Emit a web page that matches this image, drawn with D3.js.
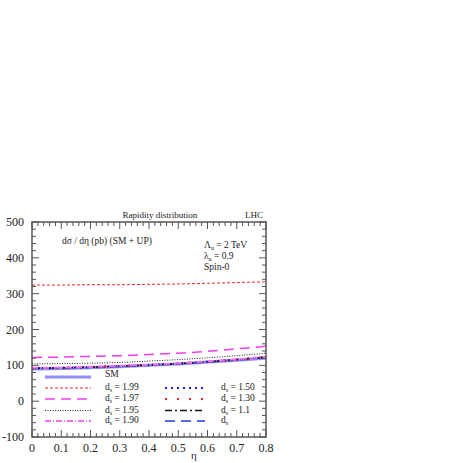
<!DOCTYPE html>
<html>
<head>
<meta charset="utf-8">
<script src="https://cdn.jsdelivr.net/npm/d3@7"></script>
<style>
  body { margin: 0; background: #fff; }
  svg text { font-family: "Liberation Serif", "Times New Roman", "DejaVu Serif", serif; fill: #222; }
</style>
</head>
<body>
<svg id="chart"></svg>
<script>
// eta grid and curves
const eta = [0, 0.1, 0.2, 0.3, 0.4, 0.5, 0.6, 0.7, 0.8];
const sm     = [90, 91, 93, 96, 100, 104, 109, 114, 120];
const d199   = [324, 324, 325, 325, 326, 327, 329, 331, 333];
const d197   = [122, 123, 125, 127, 130, 134, 139, 146, 153];
const d195   = [104, 105, 106, 108, 112, 116, 121, 127, 134];
const d190   = [93, 94, 96, 99, 102, 106, 111, 117, 124];
const d150   = [92, 93, 95, 98, 101, 105, 110, 116, 123];
const d130   = [92, 93, 95, 98, 101, 105, 110, 116, 123];
const d11    = [92, 93, 95, 98, 101, 105, 110, 116, 123];
const dsCurve = [91, 92, 94, 97, 100, 104, 109, 115, 122];
const xTicks = [0, 0.1, 0.2, 0.3, 0.4, 0.5, 0.6, 0.7, 0.8];
const yTicks = [-100, 0, 100, 200, 300, 400, 500];

const series = [
  {name: "SM",        vals: sm,     color: "#8f8ff5", width: 3,   dash: null,      col: 0, row: 0},
  {name: "1.99",      vals: d199,   color: "#e8282d", width: 1,   dash: "3,2",     col: 0, row: 1},
  {name: "1.97",      vals: d197,   color: "#f23cf2", width: 1.5, dash: "10,6",    col: 0, row: 2},
  {name: "1.95",      vals: d195,   color: "#222",    width: 1,   dash: "1,1.5",   col: 0, row: 3},
  {name: "1.90",      vals: d190,   color: "#f070f0", width: 2,   dash: "6,2,1,2", col: 0, row: 4},
  {name: "1.50",      vals: d150,   color: "#1a1ad0", width: 2,   dash: "2,4",     col: 1, row: 1},
  {name: "1.30",      vals: d130,   color: "#e8282d", width: 2,   dash: "2,10",    col: 1, row: 2},
  {name: "1.1",       vals: d11,    color: "#111",    width: 1.5, dash: "7,3,2,3", col: 1, row: 3},
  {name: "",          vals: dsCurve,color: "#5a6af0", width: 2,   dash: "10,6",    col: 1, row: 4}
];

const width = 463, height = 463;
const pLeft = 32, pRight = 266, pTop = 222, pBottom = 437;

const svg = d3.select("#chart").attr("width", width).attr("height", height)
  .attr("font-family", "Liberation Serif, Times New Roman, serif");

const x = d3.scaleLinear().domain([0, 0.8]).range([pLeft, pRight]);
const y = d3.scaleLinear().domain([-100, 500]).range([pBottom, pTop]);

// curves
const line = d3.line().x((d, i) => x(eta[i])).y(d => y(d)).curve(d3.curveMonotoneX);
const order = [0, 8, 5, 6, 7, 4, 3, 2, 1];
svg.append("g").selectAll("path")
  .data(order.map(i => series[i]))
  .join("path")
  .attr("d", d => line(d.vals))
  .attr("fill", "none")
  .attr("stroke", d => d.color)
  .attr("stroke-width", d => d.width)
  .attr("stroke-dasharray", d => d.dash);

// frame
svg.append("rect")
  .attr("x", pLeft).attr("y", pTop)
  .attr("width", pRight - pLeft).attr("height", pBottom - pTop)
  .attr("fill", "none").attr("stroke", "#555").attr("stroke-width", 1.5);

// ticks, all pointing inward
const tickG = svg.append("g").attr("stroke", "#555").attr("stroke-width", 1);
const xMinor = d3.range(0, 0.8001, 0.02);
const yMinor = d3.range(-100, 500.001, 20);
xMinor.forEach(v => {
  const major = Math.abs(v * 10 - Math.round(v * 10)) < 1e-6;
  const len = major ? 7 : 4;
  tickG.append("line").attr("x1", x(v)).attr("x2", x(v)).attr("y1", pBottom).attr("y2", pBottom - len);
  tickG.append("line").attr("x1", x(v)).attr("x2", x(v)).attr("y1", pTop).attr("y2", pTop + len);
});
yMinor.forEach(v => {
  const major = Math.abs(v % 100) < 1e-6;
  const len = major ? 7 : 4;
  tickG.append("line").attr("x1", pLeft).attr("x2", pLeft + len).attr("y1", y(v)).attr("y2", y(v));
  tickG.append("line").attr("x1", pRight).attr("x2", pRight - len).attr("y1", y(v)).attr("y2", y(v));
});

// tick labels
svg.append("g").selectAll("text").data(xTicks).join("text")
  .attr("x", d => x(d)).attr("y", pBottom + 15)
  .attr("text-anchor", "middle").attr("font-size", 12)
  .text(d => d3.format(".1~f")(d));
svg.append("g").selectAll("text").data(yTicks).join("text")
  .attr("x", 24).attr("y", d => y(d) + 4)
  .attr("text-anchor", "end").attr("font-size", 12)
  .text(d => d);

svg.append("text").attr("x", 194).attr("y", 459).attr("font-size", 11).attr("text-anchor", "middle").text("η");

// headers and annotations
svg.append("text").attr("x", 160).attr("y", 218).attr("font-size", 9).attr("text-anchor", "middle").text("Rapidity distribution");
svg.append("text").attr("x", 263).attr("y", 218).attr("font-size", 9).attr("text-anchor", "end").text("LHC");
svg.append("text").attr("x", 62).attr("y", 244).attr("font-size", 9.5).text("dσ / dη (pb) (SM + UP)");

const ann = svg.append("g").attr("font-size", 9.5);
const a1 = ann.append("text").attr("x", 204).attr("y", 248);
a1.append("tspan").text("Λ");
a1.append("tspan").attr("font-size", 6).attr("dy", 2).text("u");
a1.append("tspan").attr("dy", -2).text(" = 2 TeV");
const a2 = ann.append("text").attr("x", 204).attr("y", 259);
a2.append("tspan").text("λ");
a2.append("tspan").attr("font-size", 6).attr("dy", 2).text("u");
a2.append("tspan").attr("dy", -2).text(" = 0.9");
ann.append("text").attr("x", 204).attr("y", 270).text("Spin-0");

// legend
const colX = [[45, 91, 105], [165, 205, 221]];
const rowY = [377, 388, 399, 410.5, 421];
const leg = svg.append("g");
series.forEach(s => {
  const cx = colX[s.col], yy = rowY[s.row];
  leg.append("line")
    .attr("x1", cx[0]).attr("x2", cx[1]).attr("y1", yy).attr("y2", yy)
    .attr("stroke", s.color).attr("stroke-width", s.width).attr("stroke-dasharray", s.dash);
  const t = leg.append("text").attr("x", cx[2]).attr("y", yy + 2).attr("font-size", 9.5);
  if (s.name === "SM") {
    t.attr("y", yy).text("SM");
  } else {
    t.append("tspan").text("d");
    t.append("tspan").attr("font-size", 6).attr("dy", 2).text("s");
    if (s.name) t.append("tspan").attr("dy", -2).text(" = " + s.name);
  }
});
</script>
</body>
</html>
